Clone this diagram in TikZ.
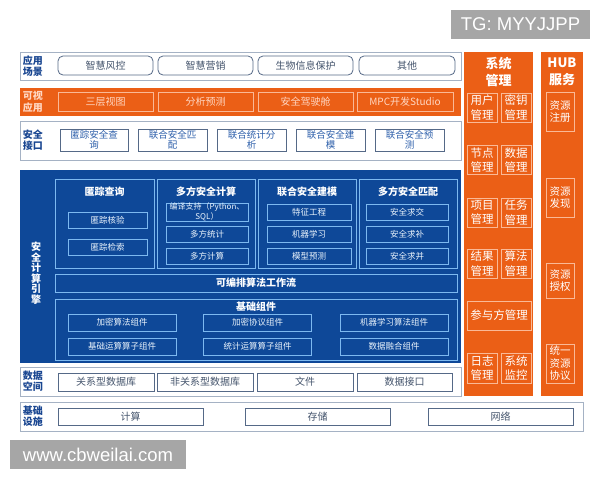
\documentclass[tikz,border=0pt]{standalone}
\usepackage{fontspec}
\setmainfont{Noto Sans CJK SC}
\newfontfamily\wmfont{Liberation Sans}
\usepackage{xcolor}
\usetikzlibrary{positioning,fit,backgrounds}

\definecolor{sysorange}{RGB}{235,95,22}
\definecolor{lightorange}{RGB}{250,185,150}
\definecolor{paleorange}{RGB}{255,215,195}
\definecolor{engblue}{RGB}{14,72,152}
\definecolor{lineblue}{RGB}{125,185,240}
\definecolor{labelblue}{RGB}{25,70,145}
\definecolor{rowgray}{RGB}{165,178,196}
\definecolor{boxgray}{RGB}{85,105,135}
\definecolor{textblue}{RGB}{45,95,170}
\definecolor{wmgray}{RGB}{166,166,166}

\begin{document}
\begin{tikzpicture}[
        x=1pt, y=-1pt,
        rowbox/.style={rectangle, draw=rowgray, line width=1pt, fill=white, inner sep=0pt},
        rowlabel/.style={align=center, text=labelblue, font=\fontsize{10}{11.5}\selectfont\bfseries},
        scenebox/.style={rectangle, draw=boxgray, rounded corners=5pt, line width=0.8pt, inner sep=0pt, minimum width=95pt, minimum height=19pt, text=boxgray!80!black, font=\fontsize{10}{12}\selectfont},
        viewbox/.style={rectangle, draw=lightorange, line width=0.8pt, inner sep=0pt, minimum width=95pt, minimum height=19pt, text=paleorange, font=\fontsize{10}{12}\selectfont},
        apibox/.style={rectangle, draw=boxgray, line width=0.8pt, inner sep=0pt, minimum width=69pt, minimum height=22pt, align=center, text=textblue, font=\fontsize{9.5}{10.5}\selectfont},
        panel/.style={rectangle, draw=lineblue, line width=0.8pt, inner sep=0pt},
        paneltitle/.style={text=white, font=\fontsize{10}{12}\selectfont\bfseries},
        engbox/.style={rectangle, draw=lineblue, line width=0.8pt, inner sep=0pt, minimum height=16pt, align=center, text=white!85!lineblue, font=\fontsize{8.5}{9.5}\selectfont},
        basebox/.style={engbox, minimum width=108pt, minimum height=17pt},
        databox/.style={rectangle, draw=boxgray, line width=0.8pt, inner sep=0pt, minimum height=18pt, text=boxgray!80!black, font=\fontsize{10}{12}\selectfont},
        syscol/.style={rectangle, fill=sysorange, inner sep=0pt},
        systitle/.style={align=center, text=white, font=\fontsize{13}{17}\selectfont\bfseries},
        sysbox/.style={rectangle, draw=lightorange, line width=0.8pt, inner sep=0pt, minimum width=30pt, minimum height=29pt, align=center, text=white, font=\fontsize{11.5}{14.5}\selectfont},
        hubbox/.style={rectangle, draw=lightorange, line width=0.8pt, inner sep=0pt, minimum width=28pt, minimum height=39pt, align=center, text=white, font=\fontsize{10.5}{12.5}\selectfont},
        wmark/.style={rectangle, fill=wmgray, inner sep=0pt, minimum height=29pt, text=white, font=\wmfont\fontsize{18.5}{20}\selectfont},
        ]
        \useasboundingbox (0,0) rectangle (600,480);

        % Application scenarios
        \node[rowbox, fit={(20,52) (461,80)}] (scene) {};
        \node[rowlabel] (scenelbl) at (33,66) {应用\\场景};
        \node[scenebox] (risk) at (105.5,65.5) {智慧风控};
        \node[scenebox] (market) at (205.5,65.5) {智慧营销};
        \node[scenebox] (bio) at (305.5,65.5) {生物信息保护};
        \node[scenebox, minimum width=96pt] (other) at (407,65.5) {其他};

        % Visual applications
        \node[syscol, fit={(20,88) (461,116)}] (view) {};
        \node[rowlabel, text=paleorange] (viewlbl) at (33,102) {可视\\应用};
        \node[viewbox] (layers) at (105.5,101.5) {三层视图};
        \node[viewbox] (predict) at (205.5,101.5) {分析预测};
        \node[viewbox] (cockpit) at (305.5,101.5) {安全驾驶舱};
        \node[viewbox, minimum width=96pt] (studio) at (405,101.5) {MPC开发Studio};

        % Security interfaces
        \node[rowbox, fit={(20,121) (461,160)}] (api) {};
        \node[rowlabel] (apilbl) at (33,140) {安全\\接口};
        \node[apibox, minimum width=68pt] (api1) at (94,140) {匿踪安全查\\询};
        \node[apibox] (api2) at (172.5,140) {联合安全匹\\配};
        \node[apibox] (api3) at (251.5,140) {联合统计分\\析};
        \node[apibox] (api4) at (330.5,140) {联合安全建\\模};
        \node[apibox] (api5) at (409.5,140) {联合安全预\\测};

        % Secure computing engine
        \node[syscol, fill=engblue, fit={(20,170) (461,363)}] (engine) {};
        \node[align=center, text=white, font=\fontsize{10}{10.5}\selectfont\bfseries] (enginelbl) at (36,273) {安\\全\\计\\算\\引\\擎};

        \node[panel, fit={(55,179) (154,268)}] (pir) {};
        \node[paneltitle] (pirtitle) at (104.5,192) {匿踪查询};
        \node[engbox, minimum width=79pt] (pir1) at (107.5,220) {匿踪核验};
        \node[engbox, minimum width=79pt] (pir2) at (107.5,247) {匿踪检索};

        \node[panel, fit={(157,179) (255,268)}] (mpc) {};
        \node[paneltitle] (mpctitle) at (206,192) {多方安全计算};
        \node[engbox, minimum width=82pt, font=\fontsize{8}{8.5}\selectfont] (mpc1) at (207,212) {编译支持（Python、\\SQL）};
        \node[engbox, minimum width=82pt] (mpc2) at (207,234) {多方统计};
        \node[engbox, minimum width=82pt] (mpc3) at (207,256.5) {多方计算};

        \node[panel, fit={(258,179) (356,268)}] (fl) {};
        \node[paneltitle] (fltitle) at (307,192) {联合安全建模};
        \node[engbox, minimum width=84pt] (fl1) at (309,212) {特征工程};
        \node[engbox, minimum width=84pt] (fl2) at (309,234) {机器学习};
        \node[engbox, minimum width=84pt] (fl3) at (309,256.5) {模型预测};

        \node[panel, fit={(359,179) (457,268)}] (psi) {};
        \node[paneltitle] (psititle) at (408,192) {多方安全匹配};
        \node[engbox, minimum width=82pt] (psi1) at (407,212) {安全求交};
        \node[engbox, minimum width=82pt] (psi2) at (407,234) {安全求补};
        \node[engbox, minimum width=82pt] (psi3) at (407,256.5) {安全求并};

        \node[panel, fit={(55,274) (457,292)}] (flow) {};
        \node[paneltitle] (flowtitle) at (256,283) {可编排算法工作流};

        \node[panel, fit={(55,299) (457,360)}] (base) {};
        \node[paneltitle] (basetitle) at (256,307) {基础组件};
        \node[basebox] (base1) at (122,322.5) {加密算法组件};
        \node[basebox] (base2) at (257.5,322.5) {加密协议组件};
        \node[basebox] (base3) at (394,322.5) {机器学习算法组件};
        \node[basebox] (base4) at (122,346.5) {基础运算算子组件};
        \node[basebox] (base5) at (257.5,346.5) {统计运算算子组件};
        \node[basebox] (base6) at (394,346.5) {数据融合组件};

        % Data space
        \node[rowbox, fit={(20,367) (461,396)}] (data) {};
        \node[rowlabel] (datalbl) at (33,381) {数据\\空间};
        \node[databox, minimum width=96pt] (rdb) at (106,382) {关系型数据库};
        \node[databox, minimum width=96pt] (nosql) at (205,382) {非关系型数据库};
        \node[databox, minimum width=96pt] (file) at (305,382) {文件};
        \node[databox, minimum width=95pt] (dapi) at (404.5,382) {数据接口};

        % Infrastructure
        \node[rowbox, fit={(20,402) (583,431)}] (infra) {};
        \node[rowlabel] (infralbl) at (33,416) {基础\\设施};
        \node[databox, minimum width=145pt, minimum height=17pt] (compute) at (130.5,416.5) {计算};
        \node[databox, minimum width=145pt, minimum height=17pt] (storage) at (317.5,416.5) {存储};
        \node[databox, minimum width=145pt, minimum height=17pt] (network) at (500.5,416.5) {网络};

        % System management
        \node[syscol, fit={(464,52) (533,396)}] (sys) {};
        \node[systitle] (systitle) at (498.5,71.5) {系统\\管理};
        \node[sysbox] (user) at (482,107.5) {用户\\管理};
        \node[sysbox] (key) at (516,107.5) {密钥\\管理};
        \node[sysbox] (nodes) at (482,160) {节点\\管理};
        \node[sysbox] (datam) at (516,160) {数据\\管理};
        \node[sysbox] (project) at (482,212.5) {项目\\管理};
        \node[sysbox] (task) at (516,212.5) {任务\\管理};
        \node[sysbox] (result) at (482,263.5) {结果\\管理};
        \node[sysbox] (algo) at (516,263.5) {算法\\管理};
        \node[sysbox, minimum width=64pt] (party) at (499,315.5) {参与方管理};
        \node[sysbox, minimum height=30pt] (log) at (482,368) {日志\\管理};
        \node[sysbox, minimum height=30pt] (monitor) at (516,368) {系统\\监控};

        % HUB services
        \node[syscol, fit={(541,52) (583,396)}] (hub) {};
        \node[systitle] (hubtitle) at (562,71.5) {HUB\\服务};
        \node[hubbox] (reg) at (560,111.5) {资源\\注册};
        \node[hubbox] (disc) at (560,197.5) {资源\\发现};
        \node[hubbox, minimum height=35pt] (auth) at (560,280.5) {资源\\授权};
        \node[hubbox] (proto) at (560,363.5) {统一\\资源\\协议};

        % Watermarks
        \node[wmark, minimum width=139pt] (tg) at (520.5,24.5) {TG: MYYJJPP};
        \node[wmark, minimum width=176pt] (site) at (98,454.5) {www.cbweilai.com};

    \end{tikzpicture}
\end{document}
